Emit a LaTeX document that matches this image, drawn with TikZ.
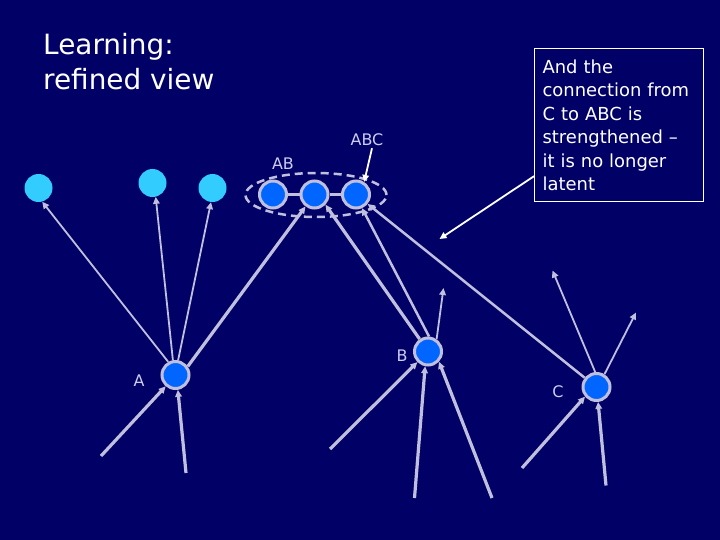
\documentclass[tikz,border=0pt]{standalone}
\usepackage{fontspec}
\setmainfont{DejaVu Sans}
\usetikzlibrary{shapes.geometric, arrows.meta, positioning}

\definecolor{slidebg}{RGB}{0,0,102}
\definecolor{unitblue}{RGB}{0,102,255}
\definecolor{liteblue}{RGB}{51,204,255}
\definecolor{linkgray}{RGB}{192,192,222}
\definecolor{labelgray}{RGB}{205,205,240}

\begin{document}
\begin{tikzpicture}[
    x=1bp, y=-1bp,
    unit/.style={circle, fill=unitblue, draw=linkgray, line width=3bp, minimum size=27bp, inner sep=0pt},
    lite/.style={circle, fill=liteblue, minimum size=28bp, inner sep=0pt},
    lbl/.style={text=labelgray, font=\fontsize{16}{19}\selectfont, inner sep=0pt},
    titletext/.style={text=white, font=\fontsize{28}{32}\selectfont, inner sep=0pt, anchor=base west},
    tip/.style={-{Triangle[length=7bp,width=6.5bp]}},
    thinlink/.style={tip, draw=linkgray, line width=1.8bp},
    midlink/.style={tip, draw=linkgray, line width=2.5bp},
    thicklink/.style={tip, draw=linkgray, line width=3.2bp},
    pointer/.style={-{Triangle[length=7bp,width=6.5bp]}, draw=white, line width=1.8bp}
  ]

  % Hintergrund
  \fill[slidebg] (0,0) rectangle (720,540);
  \useasboundingbox (0,0) rectangle (720,540);

  % Titel
  \node[titletext] (title1) at (43,55) {Learning:};
  \node[titletext] (title2) at (43,90) {refined view};

  % obere Einheiten
  \node[lite] (L1) at (38.5,188) {};
  \node[lite] (L2) at (152.5,183) {};
  \node[lite] (L3) at (212.5,188) {};

  % Gruppe AB / ABC
  \node[ellipse, draw=linkgray, line width=2.5bp, dash pattern=on 8bp off 5bp,
        minimum width=141bp, minimum height=44bp] (grp) at (316,195) {};
  \node[unit] (U1) at (273,194.5) {};
  \node[unit] (U2) at (314.5,194.5) {};
  \node[unit] (U3) at (356,194.5) {};
  \draw[draw=linkgray, line width=3bp] (U1) -- (U2);
  \draw[draw=linkgray, line width=3bp] (U2) -- (U3);

  % untere Einheiten
  \node[unit] (A) at (175.5,375) {};
  \node[unit] (B) at (428,351.5) {};
  \node[unit] (C) at (596.5,387) {};

  % Beschriftungen
  \node[lbl] (labAB) at (283,164) {AB};
  \node[lbl] (labABC) at (367,140) {ABC};
  \node[lbl] (labA) at (139,381) {A};
  \node[lbl] (labB) at (402,356) {B};
  \node[lbl] (labC) at (558,392) {C};
  \draw[pointer] ([xshift=5bp,yshift=-2bp]labABC.south) -- (U3.57);

  % freie Enden
  \coordinate (a1) at (101,456);
  \coordinate (a2) at (186,473);
  \coordinate (b1) at (330,449);
  \coordinate (b2) at (414.5,498);
  \coordinate (b3) at (492,498);
  \coordinate (bo) at (443.5,288);
  \coordinate (c1) at (552.5,270.5);
  \coordinate (c2) at (636,312.5);
  \coordinate (c3) at (522,468);
  \coordinate (c4) at (606,485.5);

  % Verbindungen von A
  \draw[thinlink] (A.119) -- (L1.-75);
  \draw[thinlink] (A.100) -- (L2.-77);
  \draw[thinlink] (A.80) -- (L3.-96);
  \draw[thicklink] (A.35) -- (U2.-127);

  % Verbindungen von B
  \draw[thicklink] (B.124) -- (U2.-43);
  \draw[midlink] (B.86) -- (U3.-66);
  \draw[thinlink] (B.55) -- (bo);

  % Verbindungen von C
  \draw[midlink] (C.142) -- (U3.-39);
  \draw[thinlink] (C.95) -- (c1);
  \draw[thinlink] (C.58) -- (c2);

  % Eingaenge
  \draw[thicklink] (a1) -- (A.229);
  \draw[thicklink] (a2) -- (A.279);
  \draw[thicklink] (b1) -- (B.225);
  \draw[thicklink] (b2) -- (B.259);
  \draw[thicklink] (b3) -- (B.-43);
  \draw[thicklink] (c3) -- (C.220);
  \draw[thicklink] (c4) -- (C.276);

  % Kommentar
  \node[draw=white, line width=1.2bp, text=white, anchor=north west, align=left,
        text width=153bp, inner xsep=8bp, minimum height=153bp,
        font=\fontsize{18}{23.6}\selectfont] (note) at (534,48)
        {And the\\connection from\\C to ABC is\\strengthened --\\it is no longer\\latent};
  \coordinate (aim) at (439.5,239);
  \draw[pointer] ([yshift=26bp]note.south west) -- (aim);
\end{tikzpicture}
\end{document}
